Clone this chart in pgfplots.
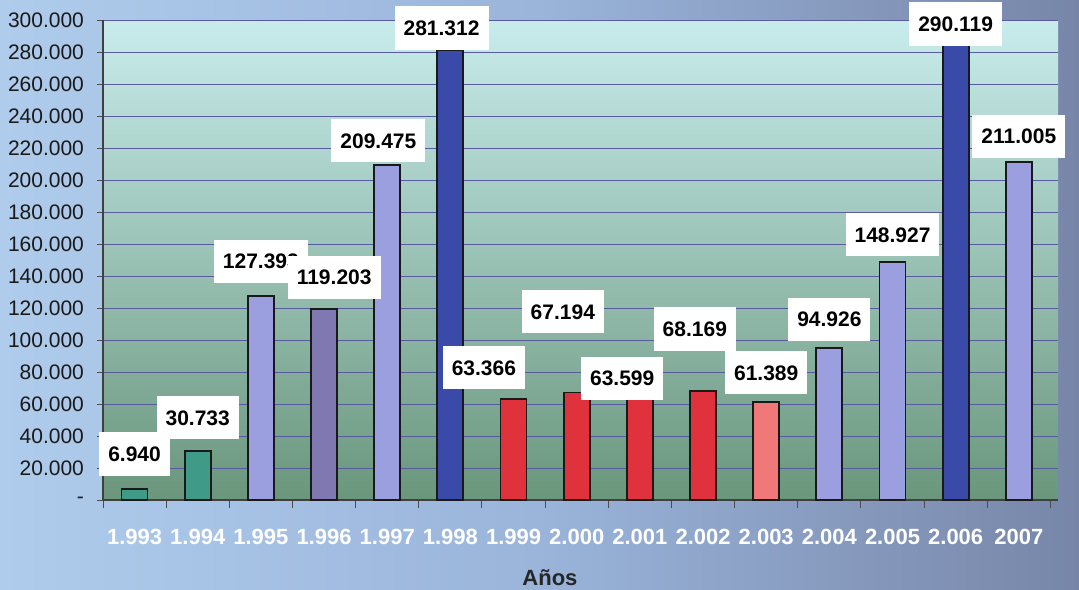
\documentclass[border=0pt]{standalone}
\usepackage{pgfplots}
\usepackage{pgfplotstable}
\pgfplotsset{compat=1.18}
\usepackage{fontspec}
\setmainfont{Liberation Sans}
\definecolor{bgL}{HTML}{AFCCEC}
\definecolor{bgM}{HTML}{9AB4DA}
\definecolor{bgR}{HTML}{7786A8}
\definecolor{plotTop}{HTML}{C8ECEC}
\definecolor{plotMid}{HTML}{A0C8BE}
\definecolor{plotBot}{HTML}{6A967C}
\definecolor{gridc}{HTML}{5A5AA0}
\definecolor{cteal}{HTML}{3F9A88}
\definecolor{clav}{HTML}{9B9FE0}
\definecolor{cviol}{HTML}{8078B0}
\definecolor{cdblue}{HTML}{3A4AA8}
\definecolor{cred}{HTML}{E0323C}
\definecolor{csalmon}{HTML}{F07878}
\pgfplotstableread{
x y lab
0 28.8 6.940
1 51.4 30.733
2 149.3 127.393
3.16 139.2 119.203
3.86 224.5 209.475
4.86 295.0 281.312
5.53 82.8 63.366
6.78 117.8 67.194
7.72 76.1 63.599
8.87 106.9 68.169
10 79.5 61.389
11 113.0 94.926
12 165.8 148.927
13 297.5 290.119
14 227.3 211.005
}\labeltable
\begin{document}
\begin{tikzpicture}
\useasboundingbox (0,0) rectangle (539.5pt,294.5pt);
\shade[left color=bgL, right color=bgR, middle color=bgM] (0,0) rectangle (539.5pt,294.5pt);
\begin{axis}[
  at={(51.5pt,44.5pt)}, anchor=south west, scale only axis,
  width=477.5pt, height=240pt,
  xmin=-0.5, xmax=14.62, ymin=0, ymax=300,
  clip=false,
  axis background/.style={shade, top color=plotTop, middle color=plotMid, bottom color=plotBot},
  axis x line*=bottom, axis y line*=left,
  axis line style={draw=black!75, line width=0.6pt},
  tick align=outside,
  major tick length=3pt,
  minor tick length=4pt,
  tick style={draw=black!70, line width=0.5pt},
  ytick={0,20,...,300},
  yticklabels={-,20.000,40.000,60.000,80.000,100.000,120.000,140.000,160.000,180.000,200.000,220.000,240.000,260.000,280.000,300.000},
  yticklabel style={font=\fontsize{10.5}{12}\selectfont, text=black!90, xshift=-3pt},
  ymajorgrids,
  grid style={color=gridc, line width=0.5pt},
  xtick={0,...,14},
  xticklabels={1.993,1.994,1.995,1.996,1.997,1.998,1.999,2.000,2.001,2.002,2.003,2.004,2.005,2.006,2007},
  xticklabel style={font=\bfseries\fontsize{11}{13}\selectfont, text=white, yshift=-8pt},
  every major x tick/.append style={draw=none},
  minor xtick={-0.5,0.5,1.5,2.5,3.5,4.5,5.5,6.5,7.5,8.5,9.5,10.5,11.5,12.5,13.5,14.5},
  xlabel={Años},
  xlabel style={at={(axis description cs:0.468,-0.1625)}, anchor=center, font=\bfseries\fontsize{11}{13}\selectfont, text=black!85},
  mybar/.style={ybar, bar width=13pt, bar shift=0pt, draw=black!90, line width=0.9pt},
]
\addplot[mybar, fill=cteal] coordinates {(0,6.940) (1,30.733)};
\addplot[mybar, fill=clav] coordinates {(2,127.393) (4,209.475) (11,94.926) (12,148.927) (14,211.005)};
\addplot[mybar, fill=cviol] coordinates {(3,119.203)};
\addplot[mybar, fill=cdblue] coordinates {(5,281.312) (13,290.119)};
\addplot[mybar, fill=cred] coordinates {(6,63.366) (7,67.194) (8,63.599) (9,68.169)};
\addplot[mybar, fill=csalmon] coordinates {(10,61.389)};
\addplot[draw=none, mark=none, nodes near coords, point meta=explicit symbolic,
  every node near coord/.append style={anchor=center, fill=white, text=black,
    font=\bfseries\fontsize{10.5}{12}\selectfont, inner xsep=4.5pt, inner ysep=7pt,
    text height=7.6pt, text depth=0pt}]
  table[x=x, y=y, meta=lab] {\labeltable};
\end{axis}
\end{tikzpicture}
\end{document}
